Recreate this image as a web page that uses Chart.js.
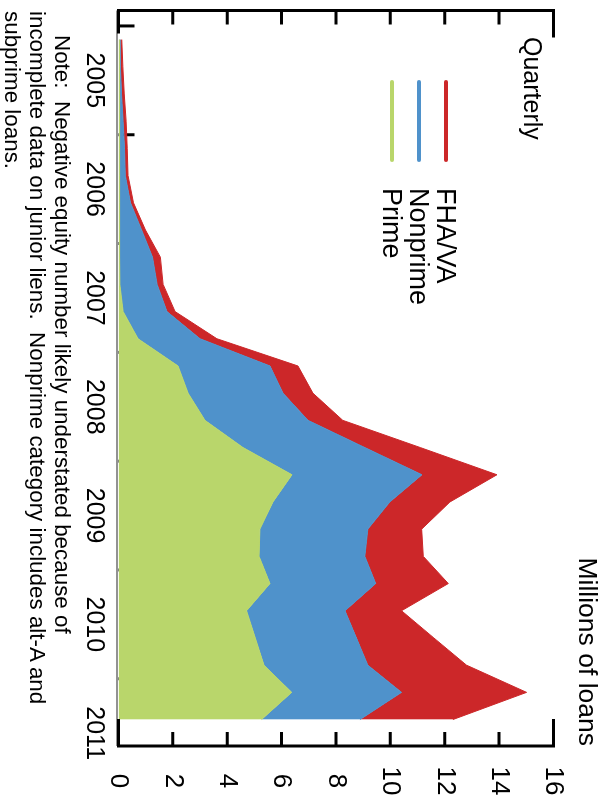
<!DOCTYPE html>
<html>
<head>
<meta charset="utf-8">
<style>
  html, body { margin: 0; padding: 0; background: #fff; overflow: hidden; }
  /* The whole figure is laid out landscape and turned a quarter turn clockwise. */
  #stage {
    position: absolute; left: 0; top: 0;
    width: 796px; height: 607px;
    transform-origin: 0 0;
    transform: translate(607px, 0) rotate(90deg);
    font-family: "Liberation Sans", Arial, sans-serif;
    color: #000;
    background: #fff;
  }
  #c { position: absolute; left: 0; top: 0; }
  .txt { position: absolute; white-space: pre; line-height: 1; }
  .swatch { position: absolute; height: 4px; border-radius: 2px; }
</style>
<script src="https://cdn.jsdelivr.net/npm/chart.js@4"></script>
</head>
<body>
<div id="stage">
  <canvas id="c" width="796" height="607"></canvas>
  <div class="txt" id="units" style="right:50px; top:6.3px; font-size:26.5px;">Millions of loans</div>
  <div class="txt" id="freq" style="left:37px; top:61.7px; font-size:25px;">Quarterly</div>
  <div id="legend"></div>
  <div id="note"></div>
</div>
<script>
// Quarterly observations, 2005 Q1 through 2011 Q2
const quarters = [
  '2005Q1','2005Q2','2005Q3','2005Q4',
  '2006Q1','2006Q2','2006Q3','2006Q4',
  '2007Q1','2007Q2','2007Q3','2007Q4',
  '2008Q1','2008Q2','2008Q3','2008Q4',
  '2009Q1','2009Q2','2009Q3','2009Q4',
  '2010Q1','2010Q2','2010Q3','2010Q4',
  '2011Q1','2011Q2'
];

// Mortgages with negative equity, millions of loans
const prime    = [0.04,0.04,0.04,0.04,0.04,0.04,0.04,0.04,0.04,0.05,0.17,0.72,2.19,2.56,3.18,4.58,6.38,5.68,5.20,5.17,5.57,4.71,5.03,5.35,6.37,5.26];
const nonprime = [0.02,0.03,0.07,0.13,0.18,0.21,0.40,0.81,1.21,1.37,1.61,2.28,3.38,3.49,3.79,4.48,4.78,4.30,3.97,3.89,3.89,3.62,3.72,3.82,4.04,3.62];
const fhaVa    = [0.06,0.09,0.10,0.11,0.10,0.10,0.11,0.14,0.29,0.22,0.30,0.62,1.03,1.10,1.28,2.04,2.76,2.21,1.98,2.15,2.67,2.08,2.85,3.63,4.60,3.42];

const yearLabels  = ['2005','2006','2007','2008','2009','2010','2011'];
const valueTicks  = [0, 2, 4, 6, 8, 10, 12, 14, 16];
const seriesNames = ['Prime', 'Nonprime', 'FHA/VA'];
const seriesColors = ['#b9d66b', '#4f92cb', '#cc2729'];

const noteLines = [
  'Note:  Negative equity number likely understated because of',
  'incomplete data on junior liens.  Nonprime category includes alt-A and',
  'subprime loans.'
];

// Each quarter sits at the middle of its span on a decimal-year axis
function quarterPos(q) {
  const yr = parseInt(q.slice(0, 4), 10);
  const qn = parseInt(q.slice(5), 10);
  return yr + (qn - 0.5) / 4;
}
function toPoints(vals) {
  return vals.map((v, i) => ({ x: quarterPos(quarters[i]), y: v }));
}

Chart.defaults.font.family = "'Liberation Sans', Arial, sans-serif";
Chart.defaults.color = '#000';

// Bracket-style frame: heavy side axes with inward ticks, short corner caps,
// a thin baseline and year ticks that sit underneath the areas.
const framePlugin = {
  id: 'frame',
  beforeDatasetsDraw(chart) {
    const { ctx, chartArea: a, scales: { x } } = chart;
    ctx.save();
    ctx.strokeStyle = '#000';
    ctx.lineWidth = 3;
    yearLabels.forEach(lbl => {
      const px = x.getPixelForValue(parseInt(lbl, 10));
      if (px < a.left || px > a.right) return;
      ctx.beginPath();
      ctx.moveTo(px, a.bottom);
      ctx.lineTo(px, a.bottom - 16);
      ctx.stroke();
    });
    ctx.restore();
  },
  afterDatasetsDraw(chart) {
    const { ctx, chartArea: a, scales: { y } } = chart;
    ctx.save();
    // thin baseline
    ctx.strokeStyle = '#6e6e6e';
    ctx.lineWidth = 1.5;
    ctx.beginPath();
    ctx.moveTo(a.left, a.bottom + 1.5);
    ctx.lineTo(a.right, a.bottom + 1.5);
    ctx.stroke();

    ctx.strokeStyle = '#000';
    ctx.lineWidth = 3;
    ctx.lineJoin = 'miter';
    ctx.lineCap = 'butt';
    // left side with caps
    ctx.beginPath();
    ctx.moveTo(a.left + 27, a.top);
    ctx.lineTo(a.left, a.top);
    ctx.lineTo(a.left, a.bottom);
    ctx.lineTo(a.left + 23, a.bottom);
    ctx.stroke();
    // right side with caps
    ctx.beginPath();
    ctx.moveTo(a.right - 27, a.top);
    ctx.lineTo(a.right, a.top);
    ctx.lineTo(a.right, a.bottom);
    ctx.lineTo(a.right - 27, a.bottom);
    ctx.stroke();
    // inward ticks on both sides
    y.ticks.forEach(t => {
      if (t.value <= y.min || t.value >= y.max) return;
      const py = y.getPixelForValue(t.value);
      ctx.beginPath();
      ctx.moveTo(a.left, py);
      ctx.lineTo(a.left + 14, py);
      ctx.moveTo(a.right, py);
      ctx.lineTo(a.right - 14, py);
      ctx.stroke();
    });
    ctx.restore();
  }
};

const datasets = [prime, nonprime, fhaVa].map((vals, i) => ({
  label: seriesNames[i],
  data: toPoints(vals),
  backgroundColor: seriesColors[i],
  borderColor: seriesColors[i],
  borderWidth: 1,
  pointRadius: 0,
  tension: 0,
  fill: i === 0 ? 'origin' : '-1'
}));

new Chart(document.getElementById('c'), {
  type: 'line',
  data: { datasets },
  options: {
    responsive: false,
    animation: false,
    events: [],
    devicePixelRatio: 1,
    layout: { padding: { left: 10.5, top: 53.5, right: 0, bottom: 0 } },
    plugins: {
      legend: { display: false },
      tooltip: { enabled: false }
    },
    scales: {
      x: {
        type: 'linear',
        position: 'bottom',
        min: 2004.858,
        max: 2011.618,
        grid: { display: false, drawTicks: false },
        border: { display: false },
        afterBuildTicks(scale) {
          scale.ticks = yearLabels.map(l => ({ value: parseInt(l, 10) + 0.5 }));
        },
        afterFit(scale) { scale.height = 118.5; },
        ticks: {
          autoSkip: false,
          maxRotation: 0,
          padding: 10,
          font: { size: 25 },
          color: '#000',
          callback: (v, i) => yearLabels[i]
        }
      },
      y: {
        type: 'linear',
        position: 'right',
        stacked: true,
        min: 0,
        max: 16,
        grid: { display: false, drawTicks: false },
        border: { display: false },
        afterBuildTicks(scale) {
          scale.ticks = valueTicks.map(v => ({ value: v }));
        },
        afterFit(scale) { scale.width = 50; },
        ticks: {
          crossAlign: 'center',
          padding: 20.5,
          font: { size: 26 },
          color: '#000',
          callback: v => String(v)
        }
      }
    }
  },
  plugins: [framePlugin]
});

// Legend: top entry is the top layer of the stack
const legendEl = document.getElementById('legend');
[2, 1, 0].forEach((si, row) => {
  const cy = 161 + row * 27;
  const sw = document.createElement('div');
  sw.className = 'swatch';
  sw.style.left = '80px';
  sw.style.width = '82px';
  sw.style.top = (cy - 2) + 'px';
  sw.style.background = seriesColors[si];
  legendEl.appendChild(sw);
  const tx = document.createElement('div');
  tx.className = 'txt';
  tx.style.left = '188px';
  tx.style.top = (cy - 13.2) + 'px';
  tx.style.fontSize = '27px';
  tx.textContent = seriesNames[si];
  legendEl.appendChild(tx);
});

// Footnote
const noteEl = document.getElementById('note');
const noteLefts = [35, 11, 11];
noteLines.forEach((line, i) => {
  const d = document.createElement('div');
  d.className = 'txt';
  d.style.left = noteLefts[i] + 'px';
  d.style.top = (534 + i * 25) + 'px';
  d.style.fontSize = '22.4px';
  d.textContent = line;
  noteEl.appendChild(d);
});
</script>
</body>
</html>
